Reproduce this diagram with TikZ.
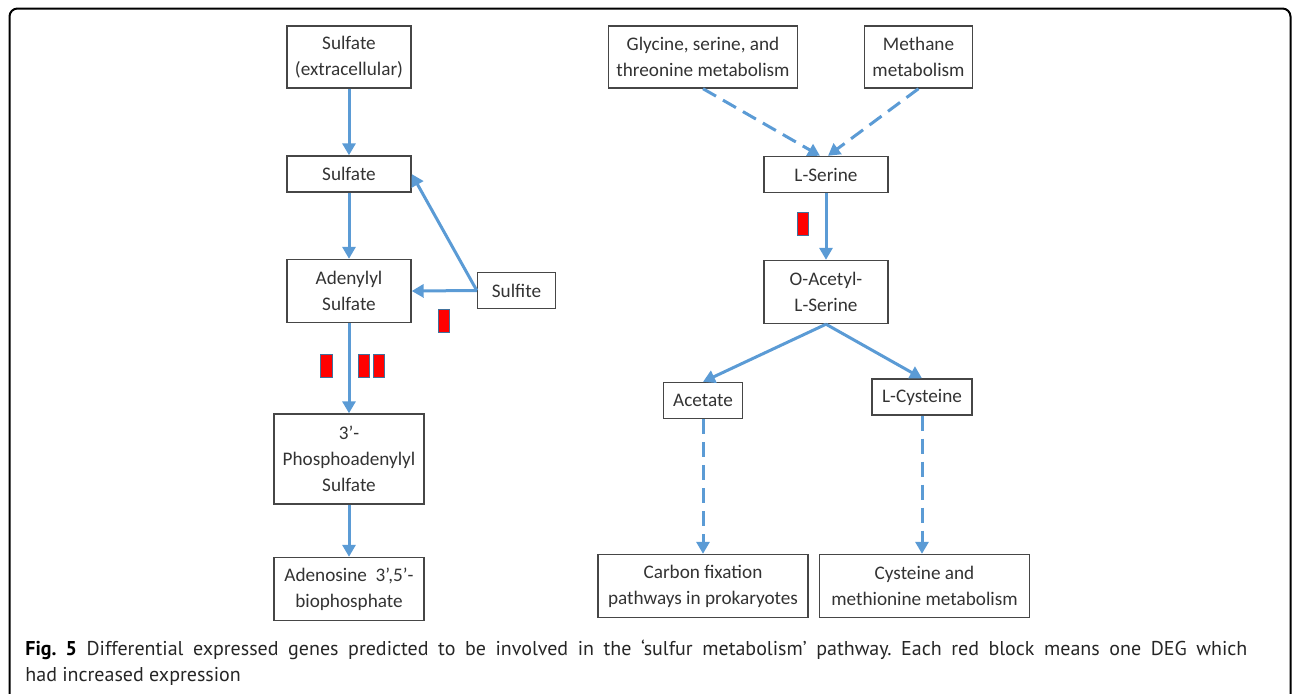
\documentclass[tikz,border=0pt]{standalone}
\usepackage{fontspec}
\setmainfont{Carlito}
\newfontfamily\capfont{PT Sans}
\usepackage{xcolor}
\usetikzlibrary{arrows.meta, positioning}
\definecolor{pathblue}{RGB}{91,155,213}
\definecolor{boxgray}{RGB}{70,70,70}
\definecolor{blockedge}{RGB}{65,113,156}
\frenchspacing

\begin{document}
\begin{tikzpicture}[x=0.5pt, y=-0.5pt,
      box/.style={draw=boxgray, line width=0.7pt, align=center, inner sep=0pt,
                  text=black!80, font=\fontsize{9.6}{13}\selectfont},
      arr/.style={-{Triangle[length=6pt, width=6.5pt]}, pathblue, line width=1.5pt},
      darr/.style={arr, dash pattern=on 7.5pt off 4pt},
      deg/.style={fill=red, draw=blockedge, line width=0.4pt,
                  minimum width=5.75pt, minimum height=11.5pt, inner sep=0pt}
    ]
      \useasboundingbox (0,0) rectangle (1292,693);
      % outer frame
      \begin{scope}
        \clip (0,0) rectangle (1292,693);
        \draw[line width=1pt, rounded corners=4pt] (9.5,8.5) rectangle (1290.5,720);
      \end{scope}
      % sulfate assimilation (left)
      \node[box, minimum width=62pt, minimum height=31pt] (ext)     at (349,57)    {Sulfate\\(extracellular)};
      \node[box, minimum width=62pt, minimum height=18pt] (sulf)    at (349,174)   {Sulfate};
      \node[box, minimum width=62pt, minimum height=31.5pt] (aps)   at (349,291)   {Adenylyl\\Sulfate};
      \node[box, minimum width=39pt, minimum height=18pt] (sulfite) at (516.5,290.5) {Sulfite};
      \node[box, minimum width=75pt, minimum height=45pt] (paps)    at (349,459)   {3’-\\Phosphoadenylyl\\Sulfate};
      \node[box, minimum width=75pt, minimum height=31.5pt] (pap)   at (349,589)   {Adenosine\ \ 3’,5’-\\biophosphate};
      % serine / cysteine branch (right)
      \node[box, minimum width=94.5pt, minimum height=31pt] (gly)   at (703,57)    {Glycine, serine, and\\threonine metabolism};
      \node[box, minimum width=54pt, minimum height=31pt] (meth)    at (918.5,57)  {Methane\\metabolism};
      \node[box, minimum width=62pt, minimum height=18pt] (lser)    at (826,174.5) {L-Serine};
      \node[box, minimum width=62pt, minimum height=31.5pt] (oas)   at (826,292)   {O-Acetyl-\\L-Serine};
      \node[box, minimum width=39.5pt, minimum height=18pt] (acet)  at (703,400.5) {Acetate};
      \node[box, minimum width=50pt, minimum height=18pt] (lcys)    at (922,397)   {L-Cysteine};
      \node[box, minimum width=105pt, minimum height=31.5pt] (cfix) at (703,586)   {Carbon fixation\\pathways in prokaryotes};
      \node[box, minimum width=105pt, minimum height=31.5pt] (cysmet) at (924.5,586) {Cysteine and\\methionine metabolism};
      % red blocks = up-regulated DEGs
      \node[deg] (d1) at (444,320.5) {};
      \node[deg] (d2) at (326.5,365.5) {};
      \node[deg] (d3) at (364,365.5) {};
      \node[deg] (d4) at (379,365.5) {};
      \node[deg] (d5) at (803,224) {};
      % connectors
      \draw[arr] (ext) -- (sulf);
      \draw[arr] (sulf) -- (aps);
      \draw[arr] (sulfite.west) -- (sulf.east);
      \draw[arr] (sulfite.west) -- (aps.east);
      \draw[arr] (aps) -- (paps);
      \draw[arr] (paps) -- (pap);
      \draw[darr] (gly.south) -- ([xshift=-3pt]lser.north);
      \draw[darr] (meth.south) -- ([xshift=1pt]lser.north);
      \draw[arr] (lser) -- (oas);
      \draw[arr] (oas.south) -- (acet.north);
      \draw[arr] (oas.south) -- (lcys.north);
      \draw[darr] (acet) -- (cfix);
      \draw[darr] (lcys.south) -- (lcys.south |- cysmet.north);
      % caption
      \node[anchor=north west, inner sep=0pt, text width=611pt, align=justify,
            font=\capfont\fontsize{10}{13}\selectfont, text=black!85] (caption) at (25,640)
        {\textbf{\color{black}Fig.~5} Differential expressed genes predicted to be involved in the ‘sulfur metabolism’ pathway. Each red block means one DEG which\linebreak had increased expression};
    \end{tikzpicture}
\end{document}
